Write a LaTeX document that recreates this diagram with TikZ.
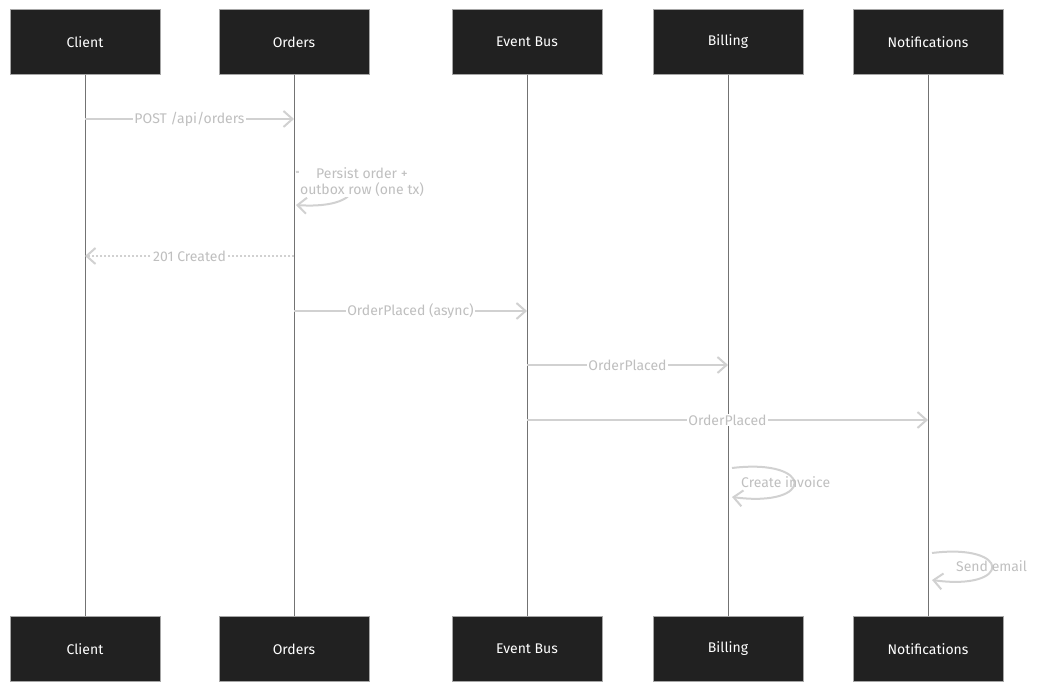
\documentclass[tikz,border=0pt]{standalone}
\usepackage{fontspec}
\setmainfont{Fira Sans}
\usetikzlibrary{arrows.meta,positioning}

\begin{document}
\begin{tikzpicture}[
    x=1pt, y=-1pt,
    actor/.style={rectangle, draw=gray!70, fill=black!87, text=white, minimum width=150pt, minimum height=65pt, align=center, font=\fontsize{14}{16}\selectfont},
    life/.style={draw=black!55, line width=0.9pt},
    msg/.style={draw=black!18, line width=2pt, -{Straight Barb[length=9pt,width=16pt]}},
    reply/.style={msg, dotted},
    label/.style={fill=white, text=black!25, inner sep=1pt, font=\fontsize{14}{16}\selectfont, align=center},
]
    \useasboundingbox (0,0) rectangle (1045,692);

    % actors, top and bottom
    \node[actor] (client) at (85,42) {Client};
    \node[actor] (orders) at (294,42) {Orders};
    \node[actor] (bus) at (527,42) {Event Bus};
    \node[actor] (billing) at (728,42) {Billing};
    \node[actor] (notif) at (928,42) {Notifications};
    \node[actor] (client2) at (85,649) {Client};
    \node[actor] (orders2) at (294,649) {Orders};
    \node[actor] (bus2) at (527,649) {Event Bus};
    \node[actor] (billing2) at (728,649) {Billing};
    \node[actor] (notif2) at (928,649) {Notifications};

    % lifelines
    \draw[life] (client) -- (client2);
    \draw[life] (orders) -- (orders2);
    \draw[life] (bus) -- (bus2);
    \draw[life] (billing) -- (billing2);
    \draw[life] (notif) -- (notif2);

    % message anchors
    \coordinate (c1) at (85,119);   \coordinate (o1) at (294,119);
    \coordinate (o2) at (294,256);  \coordinate (c2) at (85,256);
    \coordinate (o3) at (294,311);  \coordinate (e3) at (527,311);
    \coordinate (e4) at (527,365);  \coordinate (b4) at (728,365);
    \coordinate (e5) at (527,420);  \coordinate (n5) at (928,420);
    \coordinate (oa) at (296,172);  \coordinate (ob) at (296,205);
    \coordinate (ba) at (732,468);  \coordinate (bb) at (732,497);
    \coordinate (na) at (932,553);  \coordinate (nb) at (932,580);

    \draw[msg] (c1) -- node[label] {POST /api/orders} (o1);
    \draw[msg] (oa) .. controls (370,168) and (370,210) .. (ob);
    \node[label] (persist) at (362,182) {Persist order +\\outbox row (one tx)};
    \draw[reply] (o2) -- node[label] {201 Created} (c2);
    \draw[msg] (o3) -- node[label] {OrderPlaced (async)} (e3);
    \draw[msg] (e4) -- node[label] {OrderPlaced} (b4);
    \draw[msg] (e5) -- node[label] {OrderPlaced} (n5);
    \draw[msg] (ba) .. controls (815,458) and (815,508) .. (bb);
    \node[label, fill=none, anchor=west] (invoice) at (740,482) {Create invoice};
    \draw[msg] (na) .. controls (1012,543) and (1012,591) .. (nb);
    \node[label, fill=none, anchor=west] (email) at (955,566) {Send email};
\end{tikzpicture}
\end{document}
